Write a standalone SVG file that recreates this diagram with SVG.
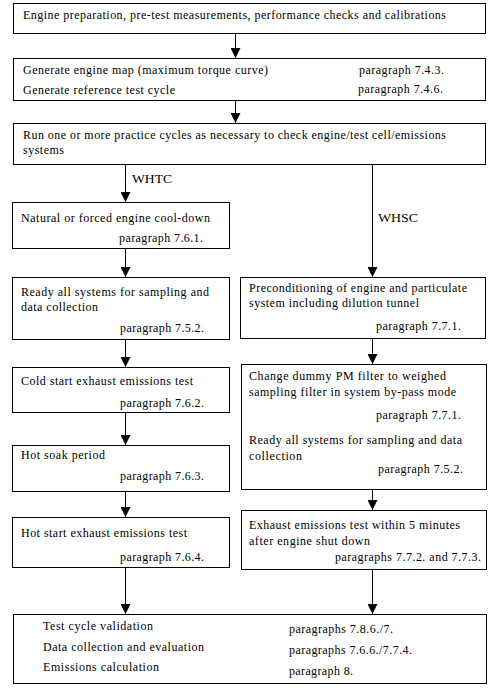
<svg xmlns="http://www.w3.org/2000/svg" width="496" height="694" viewBox="0 0 496 694">
<defs>
<style>
rect{fill:#fff;stroke:#000;stroke-width:1}
text{font-family:"Liberation Serif","Times New Roman",serif;font-size:12px;fill:#000}
.c line{stroke:#000;stroke-width:1}
</style>
<marker id="ah" markerUnits="userSpaceOnUse" markerWidth="10" markerHeight="10" refX="10" refY="5" orient="auto"><path d="M0,0 L10,5 L0,10 z" fill="#000"/></marker>
</defs>
<rect x="0" y="0" width="496" height="694" style="stroke:none"/>
<g class="c">
<line x1="235.5" y1="34" x2="235.5" y2="58" marker-end="url(#ah)"/>
<line x1="235.5" y1="101" x2="235.5" y2="123" marker-end="url(#ah)"/>
<line x1="125.5" y1="165" x2="125.5" y2="202" marker-end="url(#ah)"/>
<line x1="372.5" y1="165" x2="372.5" y2="277" marker-end="url(#ah)"/>
<line x1="125.5" y1="249" x2="125.5" y2="277" marker-end="url(#ah)"/>
<line x1="125.5" y1="340" x2="125.5" y2="367" marker-end="url(#ah)"/>
<line x1="372.5" y1="339" x2="372.5" y2="364" marker-end="url(#ah)"/>
<line x1="125.5" y1="413" x2="125.5" y2="445" marker-end="url(#ah)"/>
<line x1="125.5" y1="492" x2="125.5" y2="517" marker-end="url(#ah)"/>
<line x1="372.5" y1="490" x2="372.5" y2="510" marker-end="url(#ah)"/>
<line x1="125.5" y1="568" x2="125.5" y2="614" marker-end="url(#ah)"/>
<line x1="372.5" y1="570" x2="372.5" y2="614" marker-end="url(#ah)"/>
<text x="132" y="183" textLength="40" lengthAdjust="spacingAndGlyphs">WHTC</text>
<text x="378" y="222" textLength="40" lengthAdjust="spacingAndGlyphs">WHSC</text>
</g>
<g id="n1">
<rect x="13.5" y="3.5" width="472" height="30"/>
<text x="23" y="19" textLength="423" lengthAdjust="spacing">Engine preparation, pre-test measurements, performance checks and calibrations</text>
</g>
<g id="n2">
<rect x="13.5" y="58.5" width="472" height="42"/>
<text x="23" y="74" textLength="245" lengthAdjust="spacing">Generate engine map (maximum torque curve)</text>
<text x="359" y="74" textLength="85" lengthAdjust="spacing">paragraph 7.4.3.</text>
<text x="23" y="94" textLength="152" lengthAdjust="spacing">Generate reference test cycle</text>
<text x="358" y="93" textLength="85" lengthAdjust="spacing">paragraph 7.4.6.</text>
</g>
<g id="n3">
<rect x="13.5" y="123.5" width="472" height="41"/>
<text x="23" y="139" textLength="423" lengthAdjust="spacing">Run one or more practice cycles as necessary to check engine/test cell/emissions</text>
<text x="23" y="154" textLength="41" lengthAdjust="spacing">systems</text>
</g>
<g id="n4">
<rect x="12.5" y="202.5" width="217" height="46"/>
<text x="21" y="222" textLength="189" lengthAdjust="spacing">Natural or forced engine cool-down</text>
<text x="119" y="242" textLength="84" lengthAdjust="spacing">paragraph 7.6.1.</text>
</g>
<g id="n5">
<rect x="12.5" y="277.5" width="217" height="62"/>
<text x="21" y="296" textLength="188" lengthAdjust="spacing">Ready all systems for sampling and</text>
<text x="21" y="311" textLength="77" lengthAdjust="spacing">data collection</text>
<text x="120" y="332" textLength="84" lengthAdjust="spacing">paragraph 7.5.2.</text>
</g>
<g id="n6">
<rect x="240.5" y="277.5" width="245" height="61"/>
<text x="249" y="292" textLength="218" lengthAdjust="spacing">Preconditioning of engine and particulate</text>
<text x="249" y="307" textLength="170" lengthAdjust="spacing">system including dilution tunnel</text>
<text x="376" y="330" textLength="85" lengthAdjust="spacing">paragraph 7.7.1.</text>
</g>
<g id="n7">
<rect x="12.5" y="367.5" width="217" height="45"/>
<text x="21" y="385" textLength="172" lengthAdjust="spacing">Cold start exhaust emissions test</text>
<text x="120" y="407" textLength="84" lengthAdjust="spacing">paragraph 7.6.2.</text>
</g>
<g id="n8">
<rect x="241.5" y="364.5" width="245" height="125"/>
<text x="249" y="380" textLength="197" lengthAdjust="spacing">Change dummy PM filter to weighed</text>
<text x="249" y="396" textLength="207" lengthAdjust="spacing">sampling filter in system by-pass mode</text>
<text x="376" y="419" textLength="85" lengthAdjust="spacing">paragraph 7.7.1.</text>
<text x="249" y="444" textLength="213" lengthAdjust="spacing">Ready all systems for sampling and data</text>
<text x="249" y="460" textLength="53" lengthAdjust="spacing">collection</text>
<text x="378" y="473" textLength="85" lengthAdjust="spacing">paragraph 7.5.2.</text>
</g>
<g id="n9">
<rect x="12.5" y="445.5" width="217" height="46"/>
<text x="21" y="459" textLength="84" lengthAdjust="spacing">Hot soak period</text>
<text x="120" y="480" textLength="84" lengthAdjust="spacing">paragraph 7.6.3.</text>
</g>
<g id="n10">
<rect x="12.5" y="517.5" width="217" height="50"/>
<text x="21" y="537" textLength="166" lengthAdjust="spacing">Hot start exhaust emissions test</text>
<text x="120" y="561" textLength="84" lengthAdjust="spacing">paragraph 7.6.4.</text>
</g>
<g id="n11">
<rect x="241.5" y="510.5" width="245" height="59"/>
<text x="249" y="529" textLength="211" lengthAdjust="spacing">Exhaust emissions test within 5 minutes</text>
<text x="249" y="545" textLength="121" lengthAdjust="spacing">after engine shut down</text>
<text x="335" y="561" textLength="146" lengthAdjust="spacing">paragraphs 7.7.2. and 7.7.3.</text>
</g>
<g id="n12">
<rect x="13.5" y="614.5" width="473" height="69"/>
<text x="43" y="630" textLength="110" lengthAdjust="spacing">Test cycle validation</text>
<text x="43" y="651" textLength="161" lengthAdjust="spacing">Data collection and evaluation</text>
<text x="43" y="671" textLength="116" lengthAdjust="spacing">Emissions calculation</text>
<text x="289" y="633" textLength="104" lengthAdjust="spacing">paragraphs 7.8.6./7.</text>
<text x="289" y="654" textLength="123" lengthAdjust="spacing">paragraphs 7.6.6./7.7.4.</text>
<text x="289" y="675" textLength="64" lengthAdjust="spacing">paragraph 8.</text>
</g>
</svg>
